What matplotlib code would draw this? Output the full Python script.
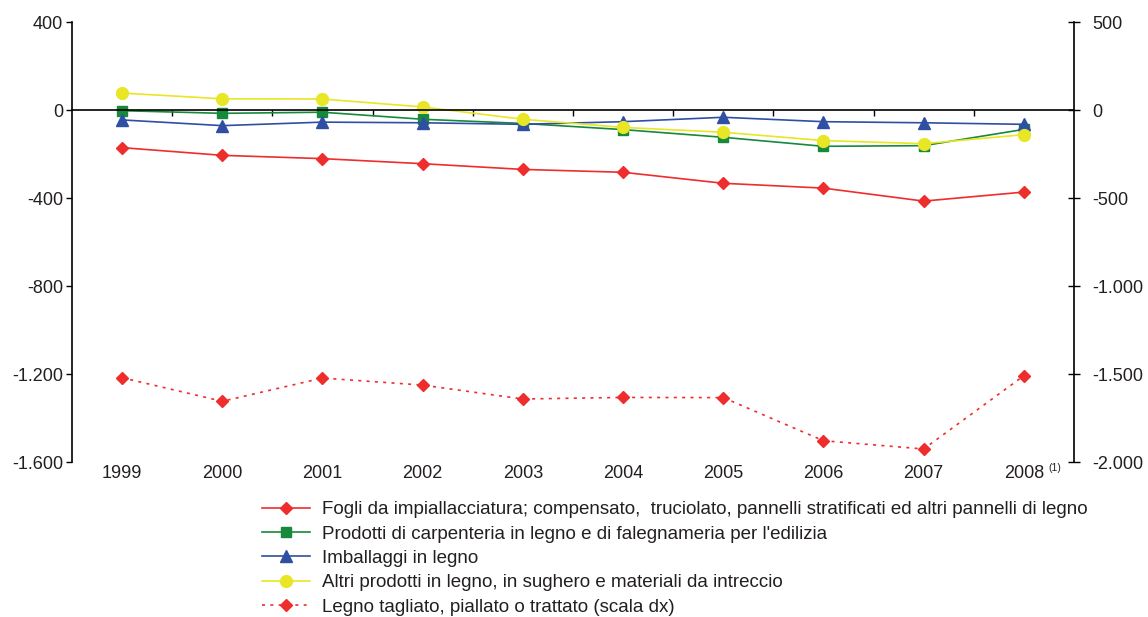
import matplotlib
matplotlib.use("Agg")
import matplotlib.pyplot as plt
import matplotlib.transforms as mtransforms

plt.rcParams['font.family'] = ['Liberation Sans', 'DejaVu Sans']

# values
years = ["1999", "2000", "2001", "2002", "2003", "2004", "2005", "2006", "2007", "2008"]
fogli = [-171, -206, -221, -244, -270, -283, -333, -355, -414, -373]
carpenteria = [-3, -15, -10, -42, -61, -89, -124, -165, -162, -88]
imballaggi = [-45, -71, -55, -58, -65, -53, -33, -53, -58, -65]
altri = [77, 51, 50, 14, -42, -79, -101, -139, -153, -112]
legno_tagliato = [-1521, -1655, -1523, -1563, -1642, -1633, -1634, -1879, -1926, -1510]

left_ticks = [400, 0, -400, -800, -1200, -1600]
left_labels = ["400", "0", "-400", "-800", "-1.200", "-1.600"]
right_ticks = [500, 0, -500, -1000, -1500, -2000]
right_labels = ["500", "0", "-500", "-1.000", "-1.500", "-2.000"]

labels = [
    "Fogli da impiallacciatura; compensato,  truciolato, pannelli stratificati ed altri pannelli di legno",
    "Prodotti di carpenteria in legno e di falegnameria per l'edilizia",
    "Imballaggi in legno",
    "Altri prodotti in legno, in sughero e materiali da intreccio",
    "Legno tagliato, piallato o trattato (scala dx)",
]

txt = "#231f20"
x = list(range(len(years)))

fig = plt.figure(figsize=(11.48, 6.17), dpi=100)
ax = fig.add_axes([0.0627, 0.2512, 0.8728, 0.7131])

l1, = ax.plot(x, fogli, color="#ee2d2d", lw=1.2, marker="D", ms=6, mec="#ee2d2d")
l2, = ax.plot(x, carpenteria, color="#17893c", lw=1.2, marker="s", ms=7, mec="#17893c")
l3, = ax.plot(x, imballaggi, color="#2f4fa2", lw=1.2, marker="^", ms=8, mec="#2f4fa2")
l4, = ax.plot(x, altri, color="#e9e625", lw=1.2, marker="o", ms=8.5, mec="#e9e625")

ax.set_xlim(-0.5, len(years) - 0.5)
ax.set_ylim(-1600, 400)
ax.set_yticks(left_ticks)
ax.set_yticklabels(left_labels)
ax.tick_params(axis="y", direction="out", length=4, width=1, labelsize=13,
               labelcolor=txt, pad=2.5)

# year labels just under the plot area
ax.set_xticks(x)
ax.set_xticklabels(years)
ax.tick_params(axis="x", which="major", bottom=True, top=False, length=0,
               labelsize=13, labelcolor=txt, pad=2)
ax.annotate("(1)", xy=(x[-1], 0), xycoords=mtransforms.blended_transform_factory(ax.transData, ax.transAxes),
            xytext=(22, -4.5), textcoords="offset points", fontsize=7.5, color=txt,
            ha="center", va="center")

# zero line with category separators
ax.spines["top"].set_position(("data", 0))
ax.spines["top"].set_linewidth(1.2)
ax.set_xticks([v + 0.5 for v in x[:-1]], minor=True)
ax.tick_params(axis="x", which="minor", top=True, bottom=False, direction="in",
               length=4, width=1)
ax.spines["bottom"].set_visible(False)
ax.spines["right"].set_visible(False)
ax.spines["left"].set_linewidth(1.2)

ax2 = ax.twinx()
l5, = ax2.plot(x, legno_tagliato, color="#ee2d2d", lw=1.2, ls=(0, (1.8, 3.2)),
               marker="D", ms=6, mec="#ee2d2d")
ax2.set_ylim(-2000, 500)
ax2.set_yticks(right_ticks)
ax2.set_yticklabels(right_labels)
ax2.tick_params(axis="y", direction="inout", length=8, width=1, labelsize=13,
                labelcolor=txt, pad=9)
for s in ["top", "bottom", "left"]:
    ax2.spines[s].set_visible(False)
ax2.spines["right"].set_linewidth(1.2)

fig.legend([l1, l2, l3, l4, l5], labels, loc="upper left",
           bbox_to_anchor=(262 / 1148, 1 - 501 / 617), frameon=False,
           fontsize=13.5, handlelength=2.56, handletextpad=0.64, labelspacing=0.39,
           borderpad=0, borderaxespad=0, labelcolor=txt)

fig.savefig("out.png", dpi=100)
